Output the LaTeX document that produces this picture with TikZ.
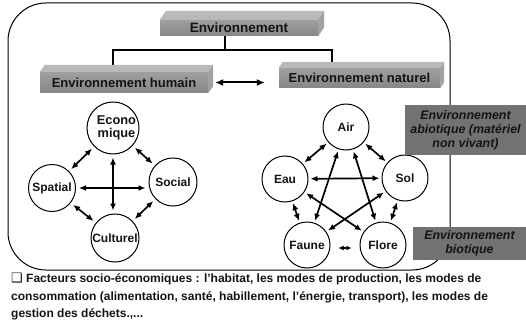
\documentclass[tikz,border=0pt]{standalone}
\usepackage{fontspec}
\setmainfont{Liberation Sans}
\newfontfamily\symfont{DejaVu Sans}
\usetikzlibrary{arrows.meta,calc}
\definecolor{frontgray}{HTML}{8E8E8E}
\definecolor{topgray}{HTML}{B9B9B9}
\definecolor{sidegray}{HTML}{A2A2A2}
\definecolor{panelgray}{HTML}{727272}
\definecolor{ink}{HTML}{141414}
\newcommand\slabdepth[3]{%
  \fill[topgray] (#1.north west) -- ++(#2,-#3) -- ($(#1.north east)+(#2,-#3)$) -- (#1.north east) -- cycle;
  \fill[sidegray] (#1.north east) -- ++(#2,-#3) -- ($(#1.south east)+(#2,-#3)$) -- (#1.south east) -- cycle;
}
\begin{document}
\begin{tikzpicture}[x=1pt,y=-1pt,
  slab/.style={rectangle, inner sep=0pt, top color=frontgray!85!white, bottom color=frontgray!95!black, text=ink,
    font=\bfseries\fontsize{13}{14}\selectfont},
  conn/.style={line width=2pt, black},
  circ/.style={circle, draw=black, line width=1pt, fill=white, inner sep=0pt, text=ink,
    font=\bfseries\fontsize{12}{12.5}\selectfont, align=center},
  dbl/.style={line width=1.7pt, {Latex[length=7pt,width=6pt]}-{Latex[length=7pt,width=6pt]}},
  panel/.style={rectangle, fill=panelgray, inner sep=0pt, text=ink, align=center,
    font=\bfseries\itshape\fontsize{12.4}{13.8}\selectfont},
]
\useasboundingbox (0,0) rectangle (526,323);
\fill[white] (0,0) rectangle (526,323);
% frame
\draw[line width=1pt, rounded corners=38pt] (8,3) rectangle (450,270);
% slab nodes
\node[slab, minimum width=158pt, minimum height=16pt, font=\bfseries\fontsize{13.5}{14}\selectfont] (env) at (239,28) {Environnement};
\node[slab, minimum width=168pt, minimum height=21pt] (hum) at (124,82.5) {Environnement humain};
\node[slab, minimum width=161pt, minimum height=20pt] (nat) at (359.5,78) {Environnement naturel};
% connectors
\coordinate (jm) at (225,50);
\coordinate (jl) at (113,50);
\coordinate (jr) at (332,50);
\draw[conn] (env.south -| jm) -- (jm);
\draw[conn] (jl |- hum.north) -- (jl) -- (jr) -- (jr |- nat.north);
\slabdepth{env}{6}{9}
\slabdepth{hum}{5}{7}
\slabdepth{nat}{4}{6}
\draw[line width=2pt, {Latex[length=8pt,width=7pt]}-{Latex[length=8pt,width=7pt]}]
  ([xshift=7pt]hum.east) -- ([xshift=-14pt]hum.east -| nat.west);
% left circles
\node[circ, minimum size=50pt, font=\bfseries\fontsize{12.8}{13}\selectfont] (eco) at (113,128) {\hspace*{7pt}Econo\\\hspace*{7pt}mique};
\node[circ, minimum size=47pt] (spa) at (52,188) {Spatial};
\node[circ, minimum size=48pt] (soc) at (173,182) {Social};
\node[circ, minimum size=48pt] (cul) at (115,238) {Culturel};
\begin{scope}[shorten <=3pt, shorten >=3pt]
\draw[dbl] (eco) -- (spa);
\draw[dbl] (eco) -- (soc);
\draw[dbl] (spa) -- (cul);
\draw[dbl] (soc) -- (cul);
\draw[dbl] (spa.east) -- (soc.west |- spa.east);
\draw[dbl] (eco.south) -- (eco.south |- cul.north);
\end{scope}
% right circles
\node[circ, minimum size=46pt] (air) at (346,127) {Air};
\node[circ, minimum size=46pt] (eau) at (285,179) {Eau};
\node[circ, minimum size=46pt] (sol) at (405,178) {Sol};
\node[circ, minimum size=46pt] (fau) at (307,245) {Faune};
\node[circ, minimum size=46pt] (flo) at (383,245) {Flore};
\begin{scope}[shorten <=2pt, shorten >=2pt]
\draw[dbl] (air) -- (eau);
\draw[dbl] (air) -- (sol);
\draw[dbl] (eau) -- (sol);
\draw[dbl] (eau) -- (fau);
\draw[dbl] (sol) -- (flo);
\draw[dbl] (air) -- (fau);
\draw[dbl] (air) -- (flo);
\draw[dbl] (eau) -- (flo);
\draw[dbl] (sol) -- (fau);
\end{scope}
\draw[line width=1.7pt, {Latex[length=5pt,width=5pt]}-{Latex[length=5pt,width=5pt]}]
  ([xshift=8pt,yshift=-3pt]fau.east) -- ([xshift=-8pt,yshift=-3pt]flo.west);
% grey panels
\node[panel, minimum width=121pt, minimum height=50pt] (abio) at (465.5,130) {Environnement\\abiotique (matériel\\non vivant)};
\node[panel, minimum width=113pt, minimum height=33pt] (bio) at (469.5,243.5) {Environnement\\biotique};
% bottom text
\node[anchor=north west, inner sep=0pt, align=left, text=ink,
  font=\bfseries\fontsize{12}{17.5}\selectfont] (txt) at (11,273)
  {{\symfont\fontsize{13}{17.5}\selectfont ❑}\ Facteurs socio-économiques : l’habitat, les modes de production, les modes de\\
   consommation (alimentation, santé, habillement, l’énergie, transport), les modes de\\
   gestion des déchets.,...};
\end{tikzpicture}
\end{document}
